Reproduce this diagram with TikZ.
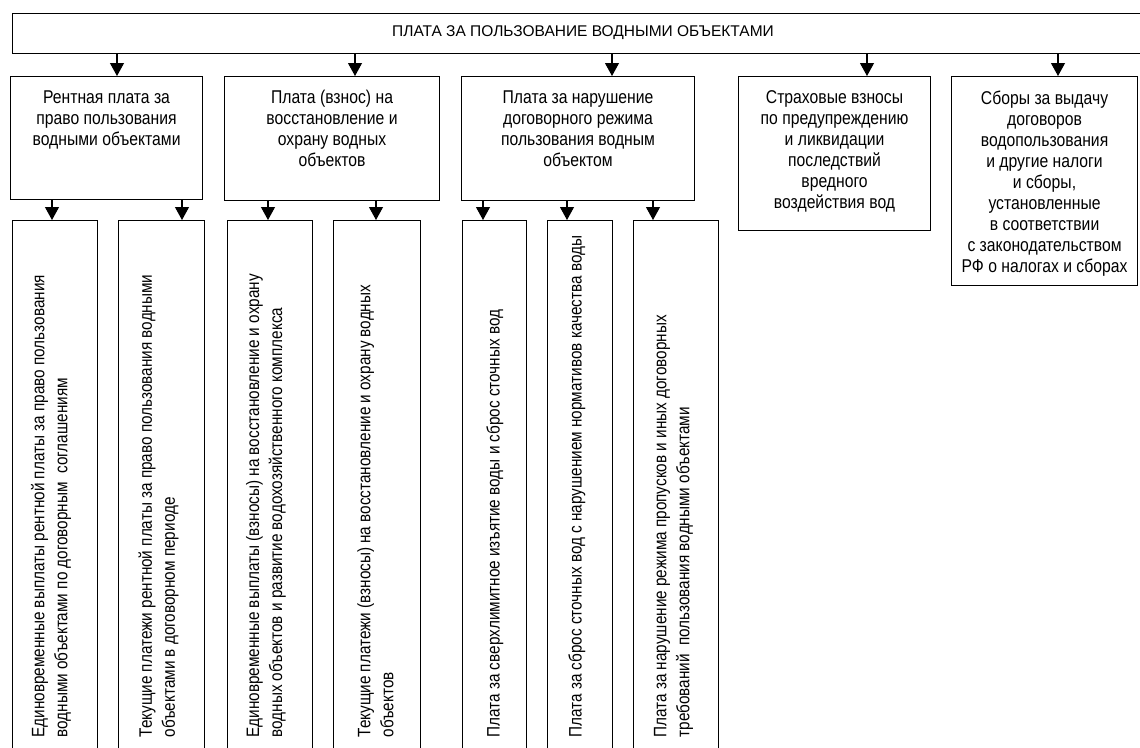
\documentclass[tikz,border=0pt]{standalone}
\usepackage{fontspec}
\setmainfont{Liberation Sans}[FakeStretch=0.85]
\newfontfamily\titlefont{Liberation Sans}
\usetikzlibrary{arrows.meta}
\begin{document}
\begin{tikzpicture}[x=1pt,y=-1pt,line width=1.1pt,
  box/.style={draw,rectangle,inner sep=0pt,anchor=north west},
  txt/.style={anchor=north,align=center,inner sep=0pt,font=\fontsize{18.5}{21}\selectfont},
  vtxt/.style={rotate=90,anchor=west,align=left,inner sep=0pt,font=\fontsize{18}{23}\selectfont},
  arr/.style={-{Triangle[width=14pt,length=13pt]},line width=1.1pt}]
\clip (0,0) rectangle (1140,747);
\fill[white] (0,0) rectangle (1140,747);
% top box
\node[box,minimum width=1160pt,minimum height=40pt] (top) at (12,13) {};
\node[inner sep=0pt,font=\titlefont\fontsize{15.5}{18}\selectfont] (title) at (583,33) {ПЛАТА ЗА ПОЛЬЗОВАНИЕ ВОДНЫМИ ОБЪЕКТАМИ};
% level 2
\node[box,minimum width=192pt,minimum height=123pt] (b1) at (10,76) {};
\node[box,minimum width=215pt,minimum height=124pt] (b2) at (224,76) {};
\node[box,minimum width=233pt,minimum height=124pt] (b3) at (461,76) {};
\node[box,minimum width=192pt,minimum height=154pt] (b4) at (738,76) {};
\node[box,minimum width=186pt,minimum height=209pt] (b5) at (951,76) {};
\node[txt] (t1) at ([yshift=-14pt]b1.north) {Рентная плата за\\право пользования\\водными объектами};
\node[txt] (t2) at ([yshift=-14pt]b2.north) {Плата (взнос) на\\восстановление и\\охрану водных\\объектов};
\node[txt] (t3) at ([yshift=-14pt]b3.north) {Плата за нарушение\\договорного режима\\пользования водным\\объектом};
\node[txt] (t4) at ([yshift=-14pt]b4.north) {Страховые взносы\\по предупреждению\\и ликвидации\\последствий\\вредного\\воздействия вод};
\node[txt] (t5) at ([yshift=-14pt]b5.north) {Сборы за выдачу\\договоров\\водопользования\\и другие налоги\\и сборы,\\установленные\\в соответствии\\с законодательством\\РФ о налогах и сборах};
% level 3
\node[box,minimum width=85pt,minimum height=540pt] (c1) at (12,220) {};
\node[box,minimum width=86pt,minimum height=540pt] (c2) at (118,220) {};
\node[box,minimum width=85pt,minimum height=540pt] (c3) at (227,220) {};
\node[box,minimum width=87pt,minimum height=540pt] (c4) at (333,220) {};
\node[box,minimum width=64pt,minimum height=540pt] (c5) at (462,220) {};
\node[box,minimum width=65pt,minimum height=540pt] (c6) at (547,220) {};
\node[box,minimum width=85pt,minimum height=540pt] (c7) at (633,220) {};
\node[vtxt] (v1) at (51,738) {Единовременные выплаты рентной платы за право пользования\\водными объектами по договорным\ \ соглашениям};
\node[vtxt] (v2) at (158.5,738) {Текущие платежи рентной платы за право пользования водными\\объектами в договорном периоде};
\node[vtxt] (v3) at (266,738) {Единовременные выплаты (взносы) на восстановление и охрану\\водных объектов и развитие водохозяйственного комплекса};
\node[vtxt] (v4) at (375.5,738) {Текущие платежи (взносы) на восстановление и охрану водных\\объектов};
\node[vtxt] (v5) at (495,738) {Плата за сверхлимитное изъятие воды и сброс сточных вод};
\node[vtxt] (v6) at (577,738) {Плата за сброс сточных вод с нарушением нормативов качества воды};
\node[vtxt] (v7) at (673.5,738) {Плата за нарушение режима пропусков и иных договорных\\требований\ \ пользования водными объектами};
% arrow x positions
\coordinate (xa) at (117,0);
\coordinate (xb) at (355,0);
\coordinate (xc) at (612,0);
\coordinate (xd) at (867,0);
\coordinate (xe) at (1058,0);
\coordinate (x1) at (52,0);
\coordinate (x2) at (182,0);
\coordinate (x3) at (268,0);
\coordinate (x4) at (376,0);
\coordinate (x5) at (483,0);
\coordinate (x6) at (567,0);
\coordinate (x7) at (653,0);
\draw[arr] (top.south -| xa) -- (b1.north -| xa);
\draw[arr] (top.south -| xb) -- (b2.north -| xb);
\draw[arr] (top.south -| xc) -- (b3.north -| xc);
\draw[arr] (top.south -| xd) -- (b4.north -| xd);
\draw[arr] (top.south -| xe) -- (b5.north -| xe);
\draw[arr] (b1.south -| x1) -- (c1.north -| x1);
\draw[arr] (b1.south -| x2) -- (c2.north -| x2);
\draw[arr] (b2.south -| x3) -- (c3.north -| x3);
\draw[arr] (b2.south -| x4) -- (c4.north -| x4);
\draw[arr] (b3.south -| x5) -- (c5.north -| x5);
\draw[arr] (b3.south -| x6) -- (c6.north -| x6);
\draw[arr] (b3.south -| x7) -- (c7.north -| x7);
\end{tikzpicture}
\end{document}
